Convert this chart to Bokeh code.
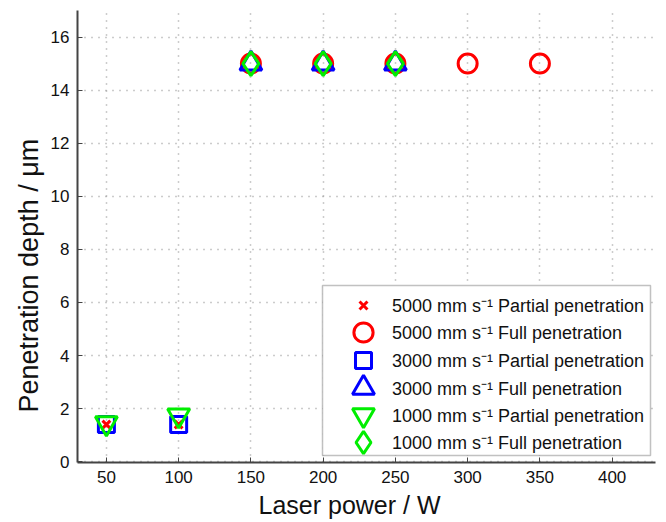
from bokeh.plotting import figure
from bokeh.models import Legend, LegendItem, Range1d, FixedTicker, BoxAnnotation, Title
from bokeh.embed import file_html
from bokeh.resources import INLINE

# data
x_5000_partial = [50, 100]
y_5000_partial = [1.4, 1.4]
x_5000_full = [150, 200, 250, 300, 350]
y_5000_full = [15, 15, 15, 15, 15]
x_3000_partial = [50, 100]
y_3000_partial = [1.4, 1.4]
x_3000_full = [150, 200, 250]
y_3000_full = [15, 15, 15]
x_1000_partial = [50, 100]
y_1000_partial = [1.45, 1.75]
x_1000_full = [150, 200, 250]
y_1000_full = [15, 15, 15]

x_ticks = [50, 100, 150, 200, 250, 300, 350, 400]
y_ticks = [0, 2, 4, 6, 8, 10, 12, 14, 16]

labels = [
    "5000 mm s\u207b\u00b9 Partial penetration",
    "5000 mm s\u207b\u00b9 Full penetration",
    "3000 mm s\u207b\u00b9 Partial penetration",
    "3000 mm s\u207b\u00b9 Full penetration",
    "1000 mm s\u207b\u00b9 Partial penetration",
    "1000 mm s\u207b\u00b9 Full penetration",
]

FONT = "Liberation Sans"
FRAME_BOTTOM = 462  # canvas y of the frame bottom
FRAME_LEFT = 77

p = figure(width=666, height=522, output_backend="svg", toolbar_location=None,
           x_range=Range1d(30, 430), y_range=Range1d(-0.03, 17))
p.min_border_left = FRAME_LEFT
p.min_border_right = 11
p.min_border_top = 10
p.min_border_bottom = 60
p.outline_line_color = None
p.background_fill_color = "white"
p.border_fill_color = "white"

sizes = [11, 19, 16, 22, 22, 24]
r1 = p.scatter(x_5000_partial, y_5000_partial, marker="x", size=sizes[0], line_color="#ff0000", line_width=3)
r2 = p.scatter(x_5000_full, y_5000_full, marker="circle", size=sizes[1], line_color="#ff0000", fill_color=None, line_width=3)
r3 = p.scatter(x_3000_partial, y_3000_partial, marker="square", size=sizes[2], line_color="#0000ff", fill_color=None, line_width=3)
r4 = p.scatter(x_3000_full, y_3000_full, marker="triangle", size=sizes[3], line_color="#0000ff", fill_color=None, line_width=3)
r5 = p.scatter(x_1000_partial, y_1000_partial, marker="inverted_triangle", size=sizes[4], line_color="#00ee00", fill_color=None, line_width=3)
r6 = p.scatter(x_1000_full, y_1000_full, marker="diamond", size=sizes[5], line_color="#00ee00", fill_color=None, line_width=3)
renderers = [r1, r2, r3, r4, r5, r6]

for ax in (p.xaxis[0], p.yaxis[0]):
    ax.axis_line_color = "#444444"
    ax.axis_line_width = 2
    ax.major_tick_in = 5
    ax.major_tick_out = 0
    ax.minor_tick_line_color = None
    ax.major_tick_line_color = "#444444"
    ax.major_label_text_font = FONT
    ax.major_label_text_font_size = "17px"
    ax.major_label_text_color = "#111111"

p.xaxis.ticker = FixedTicker(ticks=x_ticks)
p.yaxis.ticker = FixedTicker(ticks=y_ticks)
p.xaxis.major_label_standoff = 8
p.yaxis.major_label_standoff = 8

p.xgrid.grid_line_color = "#999999"
p.ygrid.grid_line_color = "#999999"
p.xgrid.grid_line_dash = "1 6"
p.ygrid.grid_line_dash = "1 6"
p.xgrid.grid_line_width = 1.5
p.ygrid.grid_line_width = 1.5

# axis titles
xt = Title(text="Laser power / W", align="left", offset=181, standoff=6,
           text_font=FONT, text_font_size="25px", text_font_style="normal", text_color="#111111")
p.add_layout(xt, "below")
yt = Title(text="Penetration depth / \u03bcm", align="left", offset=50, standoff=8,
           text_font=FONT, text_font_size="27px", text_font_style="normal", text_color="#111111")
p.add_layout(yt, "left")

# legend frame
box = BoxAnnotation(left=322 - FRAME_LEFT, right=650 - FRAME_LEFT,
                    top=FRAME_BOTTOM - 285, bottom=FRAME_BOTTOM - 455,
                    left_units="screen", right_units="screen", top_units="screen", bottom_units="screen",
                    fill_color="white", fill_alpha=1.0, line_color="#333333", line_width=1.5, level="glyph")
p.add_layout(box)

# one legend per entry so that rows can sit close together with large markers
GW = 56
for i, (lab, r, s) in enumerate(zip(labels, renderers, sizes)):
    gh = int(round(s / 0.4))
    yc = 305 + 27.5 * i
    bottom = yc + gh / 2
    lg = Legend(items=[LegendItem(label=lab, renderers=[r])],
                location=(363 - GW // 2 - FRAME_LEFT, int(round(FRAME_BOTTOM - bottom))))
    lg.label_text_font = FONT
    lg.label_text_font_size = "18px"
    lg.label_text_color = "#111111"
    lg.border_line_color = None
    lg.background_fill_alpha = 0.0
    lg.glyph_width = GW
    lg.glyph_height = gh
    lg.label_height = 20
    lg.spacing = 0
    lg.padding = 0
    lg.margin = 0
    lg.label_standoff = 392 - (363 - GW // 2) - GW
    p.add_layout(lg)

open("out.html", "w").write(file_html(p, INLINE))
